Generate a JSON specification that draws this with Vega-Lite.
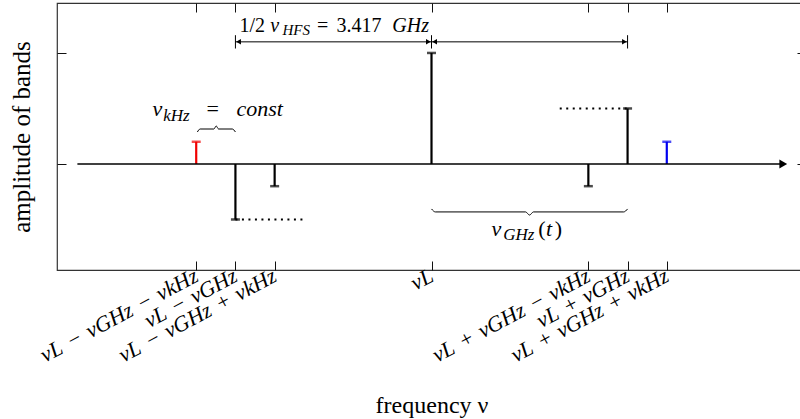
{
  "$schema": "https://vega.github.io/schema/vega-lite/v6.json",
  "width": 749,
  "height": 267,
  "autosize": {"type": "none"},
  "padding": {"left": 57, "top": 3, "right": 0, "bottom": 149},
  "background": "white",
  "config": {
    "font": "Liberation Serif",
    "view": {"stroke": "#333333", "strokeWidth": 1.2},
    "axis": {
      "domain": false,
      "grid": false,
      "tickColor": "#111111",
      "tickWidth": 1,
      "labelFont": "Liberation Serif",
      "labelColor": "#000000",
      "titleFont": "Liberation Serif",
      "titleFontWeight": "normal",
      "titleColor": "#000000"
    }
  },
  "datasets": {
    "stems": [
      {"f": -6, "a": 0.2, "group": "lower"},
      {"f": -5, "a": -0.5, "group": "main"},
      {"f": -4, "a": -0.2, "group": "main"},
      {"f": 0, "a": 1.0, "group": "main"},
      {"f": 4, "a": -0.2, "group": "main"},
      {"f": 5, "a": 0.5, "group": "main"},
      {"f": 6, "a": 0.2, "group": "upper"}
    ],
    "baseline": [{"x1": -9.03, "x2": 8.9, "y": 0}],
    "arrowtip": [{"x": 8.97, "y": 0}],
    "dimbars": [{"x": -5}, {"x": 0}, {"x": 5}],
    "dimlines": [{"x1": -5, "x2": 0}, {"x1": 0, "x2": 5}],
    "dimheads": [
      {"x": -4.92, "dir": "left"},
      {"x": -0.08, "dir": "right"},
      {"x": 0.08, "dir": "left"},
      {"x": 4.92, "dir": "right"}
    ],
    "dotted": [
      {"x1": -5, "x2": -3.2, "y": -0.5},
      {"x1": 3.27, "x2": 5, "y": 0.5}
    ],
    "braces": [
      {"brace": "kHz", "x": -5.97, "y": 0.288},
      {"brace": "kHz", "x": -5.9, "y": 0.315},
      {"brace": "kHz", "x": -5.55, "y": 0.315},
      {"brace": "kHz", "x": -5.49, "y": 0.342},
      {"brace": "kHz", "x": -5.43, "y": 0.315},
      {"brace": "kHz", "x": -5.08, "y": 0.315},
      {"brace": "kHz", "x": -5.0, "y": 0.288},
      {"brace": "GHz", "x": 0, "y": -0.405},
      {"brace": "GHz", "x": 0.1, "y": -0.432},
      {"brace": "GHz", "x": 2.4, "y": -0.432},
      {"brace": "GHz", "x": 2.5, "y": -0.46},
      {"brace": "GHz", "x": 2.6, "y": -0.432},
      {"brace": "GHz", "x": 4.9, "y": -0.432},
      {"brace": "GHz", "x": 5.0, "y": -0.405}
    ],
    "texts": [
      {"label": "hfs", "part": "roman", "x": -4.898, "y": 1.19, "text": "1/2"},
      {"label": "hfs", "part": "italic", "x": -4.11, "y": 1.19, "text": "ν"},
      {"label": "hfs", "part": "sub", "x": -3.8, "y": 1.163, "text": "HFS"},
      {"label": "hfs", "part": "roman", "x": -2.92, "y": 1.19, "text": "="},
      {"label": "hfs", "part": "roman", "x": -2.42, "y": 1.19, "text": "3.417"},
      {"label": "hfs", "part": "italic", "x": -1.0, "y": 1.19, "text": "GHz"},
      {"label": "khz", "part": "italic", "x": -7.117, "y": 0.43, "text": "ν"},
      {"label": "khz", "part": "sub", "x": -6.84, "y": 0.39, "text": "kHz"},
      {"label": "khz", "part": "roman", "x": -5.74, "y": 0.43, "text": "="},
      {"label": "khz", "part": "italic", "x": -4.974, "y": 0.43, "text": "const"},
      {"label": "ghz", "part": "italic", "x": 1.53, "y": -0.649, "text": "ν"},
      {"label": "ghz", "part": "sub", "x": 1.83, "y": -0.685, "text": "GHz"},
      {"label": "ghz", "part": "roman", "x": 2.72, "y": -0.649, "text": "("},
      {"label": "ghz", "part": "italic", "x": 2.92, "y": -0.649, "text": "t"},
      {"label": "ghz", "part": "roman", "x": 3.14, "y": -0.649, "text": ")"}
    ]
  },
  "layer": [
    {
      "data": {"name": "stems"},
      "mark": {"type": "rule", "strokeWidth": 2.2},
      "encoding": {
        "x": {
          "field": "f", "type": "quantitative",
          "scale": {"domain": [-9.55, 9.55], "nice": false, "zero": false},
          "axis": {
            "orient": "bottom",
            "values": [-6, -5, -4, 0, 4, 5, 6],
            "tickSize": -9,
            "labelPadding": 4,
            "labelOffset": -5,
            "labelAngle": -28,
            "labelAlign": "right",
            "labelBaseline": "top",
            "labelFontSize": 22,
            "labelFontStyle": "italic",
            "labelOverlap": false,
            "labelBound": false,
            "labelFlush": false,
            "labelLimit": 0,
            "labelExpr": "datum.value == -6 ? 'νL\u2004−\u2004νGHz\u2004−\u2004νkHz' : datum.value == -5 ? 'νL\u2004−\u2004νGHz' : datum.value == -4 ? 'νL\u2004−\u2004νGHz\u2004+\u2004νkHz' : datum.value == 0 ? 'νL' : datum.value == 4 ? 'νL\u2004+\u2004νGHz\u2004−\u2004νkHz' : datum.value == 5 ? 'νL\u2004+\u2004νGHz' : 'νL\u2004+\u2004νGHz\u2004+\u2004νkHz'",
            "title": "frequency ν",
            "titleFontSize": 24,
            "titlePadding": 28
          }
        },
        "y": {
          "field": "a", "type": "quantitative",
          "scale": {"domain": [-0.955, 1.45], "nice": false, "zero": false},
          "axis": {
            "orient": "left",
            "values": [0, 1],
            "tickSize": -9,
            "labels": false,
            "title": "amplitude of bands",
            "titleFontSize": 25,
            "titlePadding": 22
          }
        },
        "y2": {"datum": 0},
        "color": {
          "field": "group", "type": "nominal",
          "scale": {"domain": ["lower", "main", "upper"], "range": ["#f00000", "#000000", "#0000f0"]},
          "legend": null
        }
      }
    },
    {
      "data": {"name": "stems"},
      "mark": {"type": "tick", "orient": "horizontal", "size": 9, "thickness": 2.5},
      "encoding": {
        "x": {
          "field": "f", "type": "quantitative",
          "axis": {"orient": "top", "values": [-6, -5, -4, 0, 4, 5, 6], "tickSize": -9, "labels": false, "title": null}
        },
        "y": {
          "field": "a", "type": "quantitative",
          "axis": {"orient": "right", "values": [0, 1], "tickSize": -9, "labels": false, "title": null}
        },
        "color": {"field": "group", "type": "nominal", "legend": null}
      }
    },
    {
      "data": {"name": "baseline"},
      "mark": {"type": "rule", "strokeWidth": 1.6, "color": "#000000"},
      "encoding": {
        "x": {"field": "x1", "type": "quantitative", "axis": null},
        "x2": {"field": "x2"},
        "y": {"field": "y", "type": "quantitative", "axis": null}
      }
    },
    {
      "data": {"name": "arrowtip"},
      "mark": {"type": "point", "shape": "triangle-right", "filled": true, "size": 81, "color": "#000000", "opacity": 1},
      "encoding": {
        "x": {"field": "x", "type": "quantitative", "axis": null},
        "y": {"field": "y", "type": "quantitative", "axis": null}
      }
    },
    {
      "data": {"name": "dimbars"},
      "mark": {"type": "rule", "strokeWidth": 1, "color": "#000000"},
      "encoding": {
        "x": {"field": "x", "type": "quantitative", "axis": null},
        "y": {"datum": 1.04, "type": "quantitative", "axis": null},
        "y2": {"datum": 1.16}
      }
    },
    {
      "data": {"name": "dimlines"},
      "mark": {"type": "rule", "strokeWidth": 1, "color": "#000000"},
      "encoding": {
        "x": {"field": "x1", "type": "quantitative", "axis": null},
        "x2": {"field": "x2"},
        "y": {"datum": 1.1, "type": "quantitative", "axis": null}
      }
    },
    {
      "data": {"name": "dimheads"},
      "mark": {"type": "point", "filled": true, "size": 30, "color": "#000000", "opacity": 1},
      "encoding": {
        "x": {"field": "x", "type": "quantitative", "axis": null},
        "y": {"datum": 1.1, "type": "quantitative", "axis": null},
        "shape": {
          "field": "dir", "type": "nominal",
          "scale": {"domain": ["left", "right"], "range": ["triangle-left", "triangle-right"]},
          "legend": null
        }
      }
    },
    {
      "data": {"name": "dotted"},
      "mark": {"type": "rule", "strokeWidth": 2, "strokeDash": [2, 4.5], "color": "#000000"},
      "encoding": {
        "x": {"field": "x1", "type": "quantitative", "axis": null},
        "x2": {"field": "x2"},
        "y": {"field": "y", "type": "quantitative", "axis": null}
      }
    },
    {
      "data": {"name": "braces"},
      "mark": {"type": "line", "strokeWidth": 1, "color": "#000000", "interpolate": "monotone"},
      "encoding": {
        "x": {"field": "x", "type": "quantitative", "axis": null},
        "y": {"field": "y", "type": "quantitative", "axis": null},
        "detail": {"field": "brace"}
      }
    },
    {
      "data": {"name": "texts"},
      "transform": [{"filter": "datum.label == 'hfs' && datum.part == 'roman'"}],
      "mark": {"type": "text", "align": "left", "baseline": "alphabetic", "fontSize": 20, "color": "#000000"},
      "encoding": {
        "x": {"field": "x", "type": "quantitative", "axis": null},
        "y": {"field": "y", "type": "quantitative", "axis": null},
        "text": {"field": "text"}
      }
    },
    {
      "data": {"name": "texts"},
      "transform": [{"filter": "datum.label == 'hfs' && datum.part == 'italic'"}],
      "mark": {"type": "text", "align": "left", "baseline": "alphabetic", "fontSize": 20, "fontStyle": "italic", "color": "#000000"},
      "encoding": {
        "x": {"field": "x", "type": "quantitative", "axis": null},
        "y": {"field": "y", "type": "quantitative", "axis": null},
        "text": {"field": "text"}
      }
    },
    {
      "data": {"name": "texts"},
      "transform": [{"filter": "datum.label == 'hfs' && datum.part == 'sub'"}],
      "mark": {"type": "text", "align": "left", "baseline": "alphabetic", "fontSize": 15, "fontStyle": "italic", "color": "#000000"},
      "encoding": {
        "x": {"field": "x", "type": "quantitative", "axis": null},
        "y": {"field": "y", "type": "quantitative", "axis": null},
        "text": {"field": "text"}
      }
    },
    {
      "data": {"name": "texts"},
      "transform": [{"filter": "datum.label != 'hfs' && datum.part == 'roman'"}],
      "mark": {"type": "text", "align": "left", "baseline": "alphabetic", "fontSize": 22, "color": "#000000"},
      "encoding": {
        "x": {"field": "x", "type": "quantitative", "axis": null},
        "y": {"field": "y", "type": "quantitative", "axis": null},
        "text": {"field": "text"}
      }
    },
    {
      "data": {"name": "texts"},
      "transform": [{"filter": "datum.label != 'hfs' && datum.part == 'italic'"}],
      "mark": {"type": "text", "align": "left", "baseline": "alphabetic", "fontSize": 22, "fontStyle": "italic", "color": "#000000"},
      "encoding": {
        "x": {"field": "x", "type": "quantitative", "axis": null},
        "y": {"field": "y", "type": "quantitative", "axis": null},
        "text": {"field": "text"}
      }
    },
    {
      "data": {"name": "texts"},
      "transform": [{"filter": "datum.label != 'hfs' && datum.part == 'sub'"}],
      "mark": {"type": "text", "align": "left", "baseline": "alphabetic", "fontSize": 17, "fontStyle": "italic", "color": "#000000"},
      "encoding": {
        "x": {"field": "x", "type": "quantitative", "axis": null},
        "y": {"field": "y", "type": "quantitative", "axis": null},
        "text": {"field": "text"}
      }
    }
  ],
  "resolve": {"axis": {"x": "independent", "y": "independent"}}
}
